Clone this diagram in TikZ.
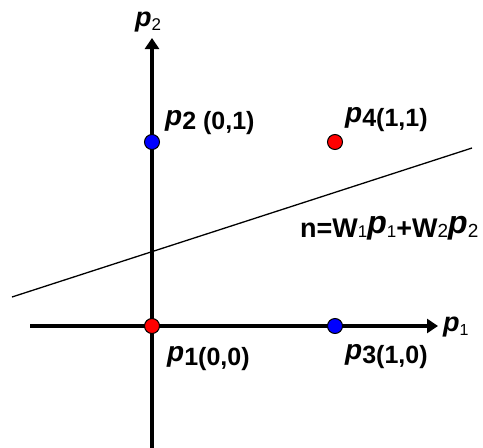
\documentclass[tikz,border=0pt]{standalone}
\usepackage{fontspec}
\setmainfont{Liberation Sans}
\usetikzlibrary{arrows.meta}
\newcommand\bigp[1][28]{\raisebox{3.5pt}{\fontsize{#1}{#1}\selectfont\bfseries\itshape p}}
\newcommand\smalln[2]{{\mdseries\upshape\fontsize{#1}{#1}\selectfont #2}}
\begin{document}
\begin{tikzpicture}[x=1pt,y=-1pt,
  axis/.style={line width=4.5pt,-{Triangle[length=11pt,width=14pt]}},
  dot/.style={circle,draw=black,line width=1pt,minimum size=15pt,inner sep=0pt},
  lbl/.style={font=\bfseries\fontsize{25}{25}\selectfont,inner sep=0pt,anchor=base west}]
\useasboundingbox (0,0) rectangle (483,448);
\coordinate (xs) at (30,326);
\coordinate (xe) at (438,326);
\coordinate (ys) at (152,448);
\coordinate (ye) at (152,38);
\draw[axis] (xs) -- (xe);
\draw[axis] (ys) -- (ye);
\coordinate (ls) at (12,297);
\coordinate (le) at (472,148);
\draw[line width=1.3pt] (ls) -- (le);
\node[dot,fill=red] (p1) at (152,326) {};
\node[dot,fill=blue] (p2) at (152,142) {};
\node[dot,fill=blue] (p3) at (335,326) {};
\node[dot,fill=red] (p4) at (335,142) {};
\node[lbl] (ax2) at (135,30) {\bigp[27]\smalln{17}{2}};
\node[lbl] (ax1) at (443,335) {\bigp[27]\smalln{16}{1}};
\node[lbl] (l2) at (165,129) {\bigp 2 (0,1)};
\node[lbl] (l4) at (345,126) {\bigp 4(1,1)};
\node[lbl] (l1) at (167,365) {\bigp 1(0,0)};
\node[lbl] (l3) at (345,363) {\bigp 3(1,0)};
\node[lbl,font=\bfseries\fontsize{27}{27}\selectfont] (eq) at (300,237) {n=W\smalln{17}{1}\bigp[32]\smalln{17}{1}+W\smalln{19}{2}\bigp[32]\smalln{19}{2}};
\end{tikzpicture}
\end{document}
